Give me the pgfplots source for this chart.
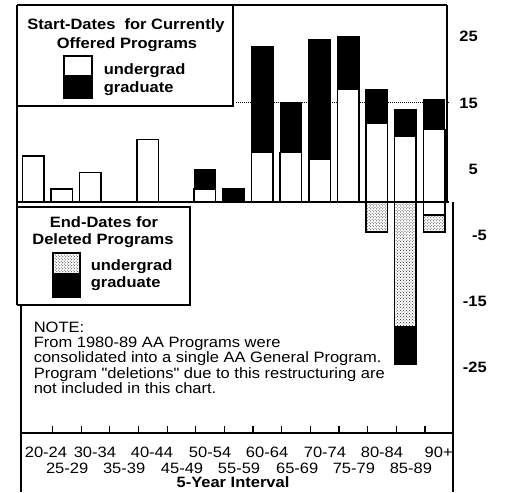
\documentclass[border=0pt]{standalone}
\usepackage{fontspec}
\setmainfont{Liberation Sans}[FakeStretch=1.1, Ligatures=TeXOff]
\usepackage{pgfplots}
\pgfplotsset{compat=1.18}
\usetikzlibrary{patterns}
\newcommand{\fs}{\fontsize{15bp}{18bp}\selectfont}

\begin{document}
\begin{tikzpicture}[font=\fs]
\begin{axis}[
  at={(17bp,-432bp)}, anchor=south west,
  scale only axis, width=432bp, height=427bp,
  xmin=-0.56, xmax=14.52, ymin=-34.7, ymax=29.8,
  axis x line*=bottom, axis y line*=right,
  axis line style={draw=none},
  clip=false,
  xtick={0.68,1.68,...,13.68},
  xticklabels={},
  tick align=inside,
  major tick length=6bp,
  xtick style={line width=1.2bp, black},
  extra x ticks={0.45,1.19,2.16,3.18,4.15,5.20,6.18,7.19,8.17,9.22,10.19,11.20,12.18,13.19,14.16},
  extra x tick labels={20-24,\raisebox{-16bp}{25-29},30-34,\raisebox{-16bp}{35-39},40-44,\raisebox{-16bp}{45-49},50-54,\raisebox{-16bp}{55-59},60-64,\raisebox{-16bp}{65-69},70-74,\raisebox{-16bp}{75-79},80-84,\raisebox{-16bp}{85-89},90+},
  extra x tick style={major tick length=0pt, xticklabel style={anchor=base, yshift=-25bp, font=\fs}},
  ytick={-25,-15,-5,5,15,25},
  yticklabels={-25\hspace*{-9bp},-15\hspace*{-9bp},-5\hspace*{-9bp},5,15,25},
  ytick style={draw=none},
  yticklabel style={anchor=east, xshift=29bp, inner sep=0pt, font=\fs\bfseries},
  xlabel={\bfseries 5-Year Interval},
  xlabel style={at={(axis description cs:0.5,0)}, anchor=base, yshift=-55bp, font=\fs},
]
% dotted reference line at 15
\addplot[densely dotted, line width=1bp, sharp plot, black] coordinates {(7.1,15) (14.5,15)};
% start-dates: totals (graduate on top)
\addplot[ybar, bar width=21.5bp, bar shift=0pt, fill=black, draw=black, line width=1.2bp]
  coordinates {(6,5) (7,2) (8,23.5) (9,15) (10,24.5) (11,25) (12,17) (13,14) (14,15.5)};
% start-dates: undergrad
\addplot[ybar, bar width=21.5bp, bar shift=0pt, fill=white, draw=black, line width=1.5bp]
  coordinates {(0,7) (1,2) (2,4.5) (4,9.5) (6,2) (8,7.5) (9,7.5) (10,6.5) (11,17) (12,12) (13,10) (14,11)};
% end-dates: graduate total
\addplot[ybar, bar width=21.5bp, bar shift=0pt, fill=black, draw=black, line width=1.2bp]
  coordinates {(13,-24.5)};
% end-dates: undergrad
\addplot[ybar, bar width=21.5bp, bar shift=0pt, preaction={fill=white}, pattern=crosshatch dots, pattern color=black!85, draw=black, line width=1.5bp]
  coordinates {(12,-4.5) (13,-18.8) (14,-4.5)};
\addplot[ybar, bar width=21.5bp, bar shift=0pt, fill=white, draw=black, line width=1.5bp]
  coordinates {(14,-1.9)};
\end{axis}
\begin{scope}[x=1bp, y=-1bp, line width=1.6bp]
\path (0,0) rectangle (509,492);
\draw (17,5) -- (447,5);
\draw (17,5) -- (17,305);
\draw (447,5) -- (447,202);
\draw (17,202) -- (449,202);
\draw (17,106) -- (233,106) -- (233,5);
\draw (17,207) -- (190,207) -- (190,305) -- (17,305);
\draw (21,305) -- (21,492);
\draw (453,202) -- (453,492);
\draw (21,433) -- (453,433);
% legend 1
\node[anchor=base, font=\fs\bfseries] at (126,29.5) {Start-Dates\ \ for Currently};
\node[anchor=base, font=\fs\bfseries] at (127,48.5) {Offered Programs};
\draw[line width=1.5bp, fill=white] (64,56) rectangle (92,76);
\draw[line width=1.2bp, fill=black] (64,76) rectangle (92,98);
\node[anchor=base west, inner sep=0pt, font=\fs\bfseries] at (103,75) {undergrad};
\node[anchor=base west, inner sep=0pt, font=\fs\bfseries] at (103,93) {graduate};
% legend 2
\node[anchor=base, font=\fs\bfseries] at (104,227) {End-Dates for};
\node[anchor=base, font=\fs\bfseries] at (103,244) {Deleted Programs};
\draw[line width=1.5bp, preaction={fill=white}, pattern=crosshatch dots, pattern color=black!85] (53,253) rectangle (80,274);
\draw[line width=1.2bp, fill=black] (53,274) rectangle (80,297);
\node[anchor=base west, inner sep=0pt, font=\fs\bfseries] at (90,270) {undergrad};
\node[anchor=base west, inner sep=0pt, font=\fs\bfseries] at (90,287) {graduate};
% note
\node[anchor=base west, inner sep=0pt] at (33,332) {NOTE:};
\node[anchor=base west, inner sep=0pt] at (33,347.5) {From 1980-89 AA Programs were};
\node[anchor=base west, inner sep=0pt] at (33,362.8) {consolidated into a single AA General Program.};
\node[anchor=base west, inner sep=0pt] at (33,378) {Program "deletions" due to this restructuring are};
\node[anchor=base west, inner sep=0pt] at (33,393.3) {not included in this chart.};
\end{scope}
\end{tikzpicture}
\end{document}
